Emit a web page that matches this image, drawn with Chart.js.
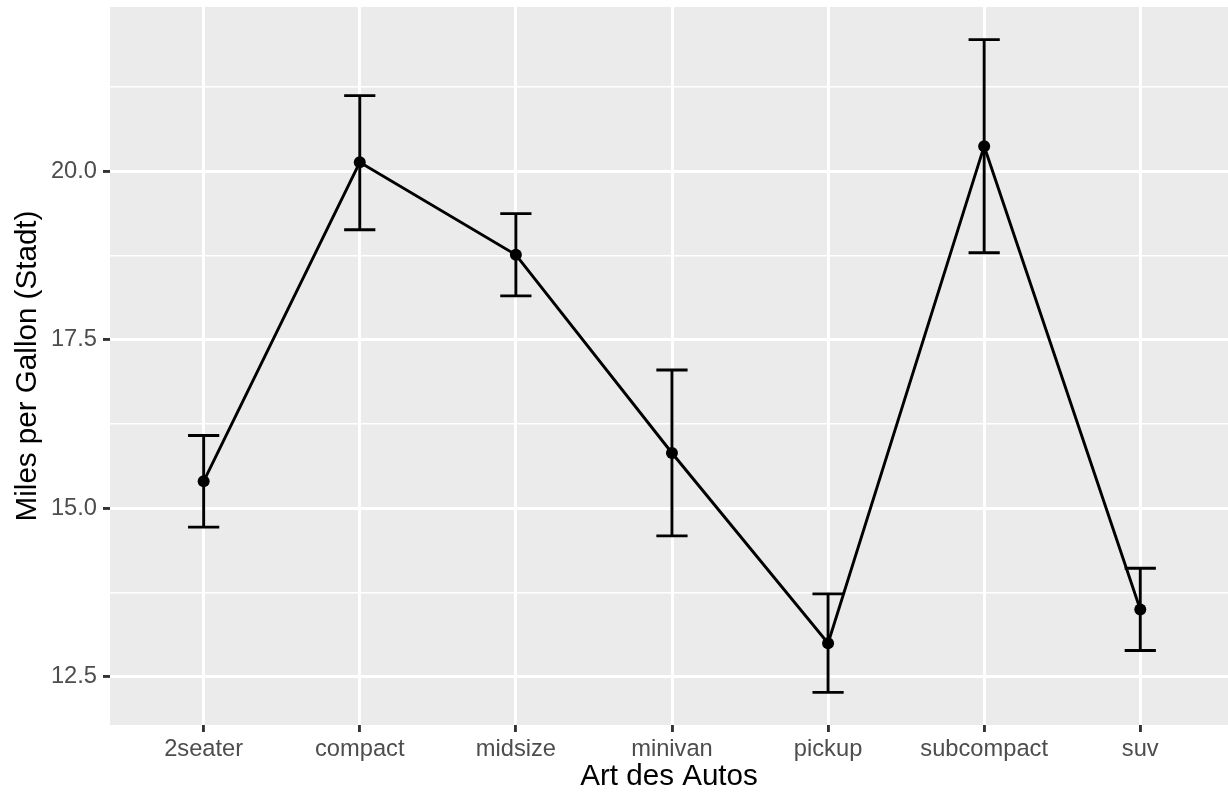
<!DOCTYPE html>
<html>
<head>
<meta charset="utf-8">
<script src="https://cdn.jsdelivr.net/npm/chart.js@4/dist/chart.umd.min.js"></script>
<style>
  html, body { margin: 0; padding: 0; background: #ffffff; overflow: hidden; }
  #wrap { width: 1228px; height: 793px; }
</style>
</head>
<body>
<div id="wrap"><canvas id="chart" width="1228" height="793"></canvas></div>
<script>
// Mean city mileage per vehicle class with confidence interval
const categories = ['2seater', 'compact', 'midsize', 'minivan', 'pickup', 'subcompact', 'suv'];
const meanMpg    = [15.40, 20.13, 18.76, 15.82, 13.00, 20.37, 13.50];
const ciLower    = [14.72, 19.13, 18.15, 14.59, 12.27, 18.79, 12.89];
const ciUpper    = [16.08, 21.12, 19.37, 17.05, 13.73, 21.95, 14.11];
const yMajorTicks = [12.5, 15.0, 17.5, 20.0];
const yMinorTicks = [13.75, 16.25, 18.75, 21.25];

const TEXT_FONT = 'Liberation Sans, Arial, Helvetica, sans-serif';
const CAP_HALF = 0.1;   // half width of the error bar caps, in category units

// y range: data extent expanded by 5% on each side
const yLo = Math.min(...ciLower), yHi = Math.max(...ciUpper);
const yPad = (yHi - yLo) * 0.05;

const panelBackground = {
  id: 'panelBackground',
  beforeDraw(chart) {
    const { ctx, chartArea: a } = chart;
    ctx.save();
    ctx.fillStyle = '#EBEBEB';
    ctx.fillRect(a.left, a.top, a.right - a.left, a.bottom - a.top);
    ctx.restore();
  }
};

const errorBars = {
  id: 'errorBars',
  beforeDatasetsDraw(chart) {
    const { ctx, scales: { x, y } } = chart;
    ctx.save();
    ctx.strokeStyle = '#000000';
    ctx.lineWidth = 2.9;
    ctx.lineCap = 'butt';
    categories.forEach((c, i) => {
      const px = x.getPixelForValue(i);
      const pl = x.getPixelForValue(i - CAP_HALF);
      const pr = x.getPixelForValue(i + CAP_HALF);
      const top = y.getPixelForValue(ciUpper[i]);
      const bot = y.getPixelForValue(ciLower[i]);
      ctx.beginPath();
      ctx.moveTo(px, top); ctx.lineTo(px, bot);
      ctx.moveTo(pl, top); ctx.lineTo(pr, top);
      ctx.moveTo(pl, bot); ctx.lineTo(pr, bot);
      ctx.stroke();
    });
    ctx.restore();
  }
};

const isMajor = v => yMajorTicks.some(t => Math.abs(t - v) < 1e-6);

new Chart(document.getElementById('chart'), {
  type: 'line',
  data: {
    datasets: [{
      data: categories.map((c, i) => ({ x: i, y: meanMpg[i] })),
      borderColor: '#000000',
      backgroundColor: '#000000',
      borderWidth: 2.9,
      pointRadius: 6,
      pointBorderWidth: 0,
      pointBackgroundColor: '#000000',
      tension: 0,
      fill: false
    }]
  },
  options: {
    responsive: false,
    devicePixelRatio: 1,
    animation: false,
    events: [],
    layout: { autoPadding: false, padding: { top: 7, right: 0, bottom: 0, left: 0 } },
    plugins: { legend: { display: false }, tooltip: { enabled: false } },
    scales: {
      x: {
        type: 'linear',
        min: -0.6,
        max: 6.562,
        afterBuildTicks(scale) { scale.ticks = categories.map((c, i) => ({ value: i })); },
        afterFit(scale) {
          scale.height = 68;
          scale.paddingLeft = 0;
          scale.paddingRight = 0;
        },
        border: { display: false },
        grid: {
          color: '#FFFFFF',
          lineWidth: 2.9,
          drawTicks: true,
          tickLength: 7,
          tickColor: '#333333',
          tickWidth: 2.9
        },
        ticks: {
          autoSkip: false,
          maxRotation: 0,
          padding: 3,
          color: '#4D4D4D',
          font: { family: TEXT_FONT, size: 23.7 },
          callback: v => categories[v] ?? ''
        },
        title: {
          display: true,
          text: 'Art des Autos',
          color: '#000000',
          font: { family: TEXT_FONT, size: 29.6 },
          padding: { top: 0, bottom: -2 }
        }
      },
      y: {
        type: 'linear',
        min: yLo - yPad,
        max: yHi + yPad,
        afterBuildTicks(scale) {
          scale.ticks = [...yMajorTicks, ...yMinorTicks].sort((a, b) => a - b).map(v => ({ value: v }));
        },
        afterFit(scale) {
          scale.width = 110;
          scale.paddingTop = 0;
          scale.paddingBottom = 0;
        },
        border: { display: false },
        grid: {
          color: '#FFFFFF',
          lineWidth: ctx => (ctx.tick && isMajor(ctx.tick.value)) ? 2.9 : 1.45,
          drawTicks: true,
          tickLength: 7,
          tickColor: ctx => (ctx.tick && isMajor(ctx.tick.value)) ? '#333333' : 'rgba(0,0,0,0)',
          tickWidth: 2.9
        },
        ticks: {
          autoSkip: false,
          padding: 6,
          color: '#4D4D4D',
          font: { family: TEXT_FONT, size: 23.7 },
          callback: v => isMajor(v) ? v.toFixed(1) : ''
        },
        title: {
          display: true,
          text: 'Miles per Gallon (Stadt)',
          color: '#000000',
          font: { family: TEXT_FONT, size: 29.6 },
          padding: { top: 10, bottom: 0 }
        }
      }
    }
  },
  plugins: [panelBackground, errorBars]
});
</script>
</body>
</html>
